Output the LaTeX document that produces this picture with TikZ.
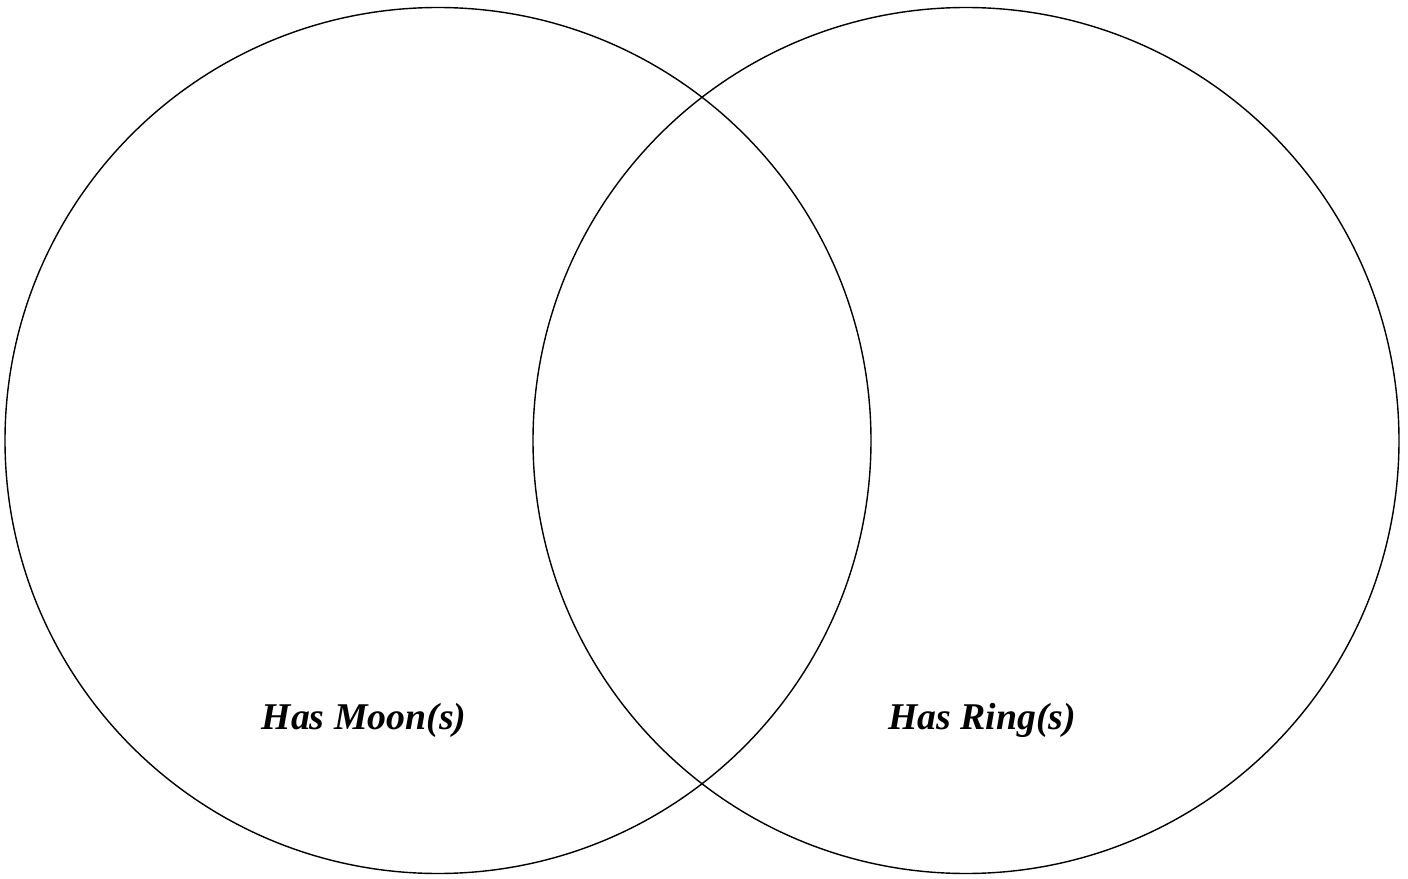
\documentclass[tikz,border=0pt]{standalone}
\usepackage{fontspec}
\setmainfont{Liberation Serif}
\begin{document}
\begin{tikzpicture}[line width=.8pt]
\useasboundingbox (0,0) rectangle (28.16,-17.58);
\tikzset{setlabel/.style={font=\fontsize{21.5}{24}\selectfont\bfseries\itshape}}
\draw (8.76,-8.81) circle (8.66);
\draw (19.32,-8.81) circle (8.66);
\node[setlabel] (moon) at (7.28,-14.4) {Has Moon(s)};
\node[setlabel] (ring) at (19.64,-14.4) {Has Ring(s)};
\end{tikzpicture}
\end{document}
